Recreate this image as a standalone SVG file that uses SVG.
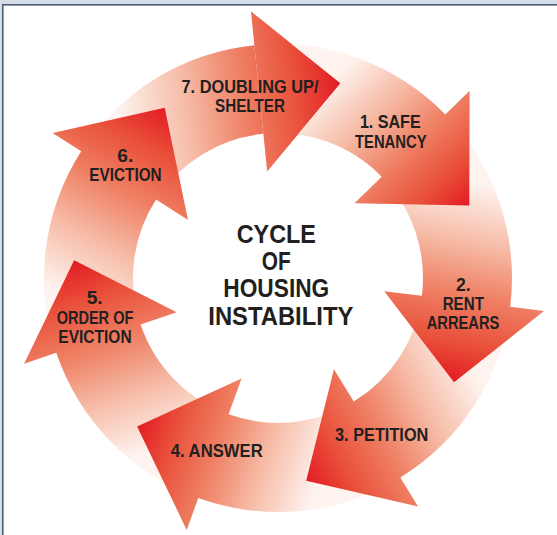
<svg xmlns="http://www.w3.org/2000/svg" width="557" height="535" viewBox="0 0 557 535">
<style>
.lbl{font-family:"Liberation Sans",Arial,sans-serif;font-weight:bold;font-size:18px;fill:#231f20;text-anchor:middle}
.ctr{font-family:"Liberation Sans",Arial,sans-serif;font-weight:bold;font-size:25px;fill:#231f20;text-anchor:middle}
</style>
<defs>
<linearGradient id="g1" gradientUnits="userSpaceOnUse" x1="338" y1="71.5" x2="469.3" y2="205.4"><stop offset="0" stop-color="#fef3ee"/><stop offset="0.3" stop-color="#f6bba6"/><stop offset="0.55" stop-color="#ef8266"/><stop offset="0.8" stop-color="#e9503a"/><stop offset="1" stop-color="#e31b24"/></linearGradient>
<linearGradient id="g2" href="#g1" x1="492.6" y1="186.7" x2="454" y2="382.3"/>
<linearGradient id="g3" href="#g1" x1="482.1" y1="389" x2="306.2" y2="480.7"/>
<linearGradient id="g4" href="#g1" x1="316.2" y1="484.8" x2="137.1" y2="426.4"/>
<linearGradient id="g5" href="#g1" x1="139.4" y1="454.7" x2="74.2" y2="260.4"/>
<linearGradient id="g6" href="#g1" x1="64.1" y1="295.4" x2="164.7" y2="107.6"/>
<linearGradient id="g7" href="#g1" x1="119.8" y1="115" x2="340.6" y2="83.2"/>
<clipPath id="c1"><path clip-rule="evenodd" d="M0 0H557V535H0Z M250.92 11.37 L340.55 83.19 L267.19 171.55 Z"/></clipPath>
</defs>
<rect width="557" height="535" fill="#ffffff"/>
<rect x="0" y="0" width="557" height="4" fill="#d5dfea"/>
<rect x="0" y="0" width="2" height="535" fill="#d5dfea"/>
<rect x="2" y="4" width="555" height="1.6" fill="#4d5e72"/>
<rect x="2" y="4" width="1.6" height="531" fill="#4d5e72"/>
<g id="arrow-7">
<path fill="url(#g7)" d="M81.24 151.34 A234 234 0 0 1 254.35 45.2 L250.92 11.37 L340.55 83.19 L267.19 171.55 L263.35 133.74 A145 145 0 0 0 156.08 199.51 Z"/>
<text class="lbl" x="250" y="93" textLength="137" lengthAdjust="spacingAndGlyphs">7. DOUBLING UP/</text>
<text class="lbl" x="250" y="112.3" textLength="70" lengthAdjust="spacingAndGlyphs">SHELTER</text>
</g>
<g id="arrow-6">
<path fill="url(#g6)" d="M56.28 352.86 A234 234 0 0 1 81.24 151.34 L52.65 132.93 L164.69 107.64 L188.03 220.08 L156.08 199.51 A145 145 0 0 0 140.61 324.39 Z"/>
<text class="lbl" x="125.3" y="161.7" textLength="16" lengthAdjust="spacingAndGlyphs">6.</text>
<text class="lbl" x="125.5" y="180.7" textLength="72.3" lengthAdjust="spacingAndGlyphs">EVICTION</text>
</g>
<g id="arrow-5">
<path fill="url(#g5)" d="M198.3 498.01 A234 234 0 0 1 56.28 352.86 L24.06 363.74 L74.16 260.37 L176.62 312.23 L140.61 324.39 A145 145 0 0 0 228.61 414.33 Z"/>
<text class="lbl" x="94.7" y="304" textLength="16" lengthAdjust="spacingAndGlyphs">5.</text>
<text class="lbl" x="95" y="323.7" textLength="76.7" lengthAdjust="spacingAndGlyphs">ORDER OF</text>
<text class="lbl" x="95" y="343" textLength="73.3" lengthAdjust="spacingAndGlyphs">EVICTION</text>
</g>
<g id="arrow-4">
<path fill="url(#g4)" d="M400.31 477.49 A234 234 0 0 1 198.3 498.01 L186.72 529.98 L137.13 426.38 L241.55 378.6 L228.61 414.33 A145 145 0 0 0 353.79 401.61 Z"/>
<text class="lbl" x="216.7" y="456.7" textLength="92" lengthAdjust="spacingAndGlyphs">4. ANSWER</text>
</g>
<g id="arrow-3">
<path fill="url(#g3)" d="M510.23 306.75 A234 234 0 0 1 400.31 477.49 L418.09 506.47 L306.17 480.65 L333.93 369.22 L353.79 401.61 A145 145 0 0 0 421.9 295.81 Z"/>
<text class="lbl" x="381.7" y="441" textLength="93.3" lengthAdjust="spacingAndGlyphs">3. PETITION</text>
</g>
<g id="arrow-2">
<path fill="url(#g2)" d="M445.31 114.41 A234 234 0 0 1 510.23 306.75 L543.97 310.93 L454.01 382.33 L384.19 291.15 L421.9 295.81 A145 145 0 0 0 381.68 176.63 Z"/>
<text class="lbl" x="463.3" y="291.3" textLength="14.7" lengthAdjust="spacingAndGlyphs">2.</text>
<text class="lbl" x="463.3" y="310.2" textLength="41.3" lengthAdjust="spacingAndGlyphs">RENT</text>
<text class="lbl" x="463" y="329.3" textLength="72.7" lengthAdjust="spacingAndGlyphs">ARREARS</text>
</g>
<g id="arrow-1">
<path fill="url(#g1)" clip-path="url(#c1)" d="M254.35 45.2 A234 234 0 0 1 445.31 114.41 L469.62 90.64 L469.3 205.44 L354.51 203.2 L381.68 176.63 A145 145 0 0 0 263.35 133.74 Z"/>
<text class="lbl" x="390.3" y="128.3" textLength="60.7" lengthAdjust="spacingAndGlyphs">1. SAFE</text>
<text class="lbl" x="390.8" y="148.3" textLength="71.7" lengthAdjust="spacingAndGlyphs">TENANCY</text>
</g>
<g id="center-title">
<text class="ctr" x="276.3" y="242.7" textLength="79.3" lengthAdjust="spacingAndGlyphs">CYCLE</text>
<text class="ctr" x="276.2" y="270" textLength="29" lengthAdjust="spacingAndGlyphs">OF</text>
<text class="ctr" x="276.3" y="297.3" textLength="106" lengthAdjust="spacingAndGlyphs">HOUSING</text>
<text class="ctr" x="280.8" y="325" textLength="145" lengthAdjust="spacingAndGlyphs">INSTABILITY</text>
</g>
<g id="connectors"/>
</svg>
